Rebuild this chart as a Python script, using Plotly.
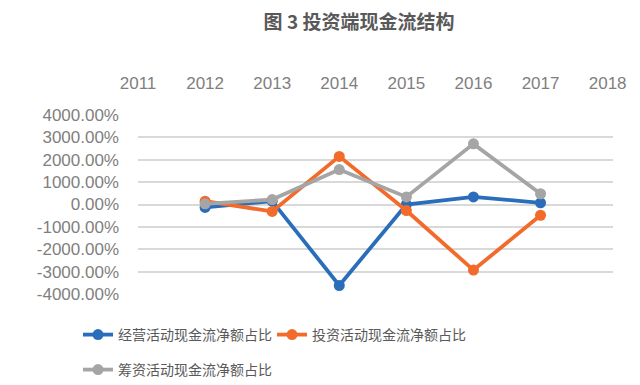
import plotly.graph_objects as go

years = [2012, 2013, 2014, 2015, 2016, 2017]
operating = [-130, 150, -3620, 0, 340, 75]
investing = [150, -310, 2150, -270, -2930, -480]
financing = [30, 220, 1560, 340, 2710, 480]
x_ticks = [2011, 2012, 2013, 2014, 2015, 2016, 2017, 2018]
y_ticks = [4000, 3000, 2000, 1000, 0, -1000, -2000, -3000, -4000]

names = ["经营活动现金流净额占比", "投资活动现金流净额占比", "筹资活动现金流净额占比"]
colors = ["#2A6EBB", "#F26B2A", "#A5A5A5"]
legends = ["legend", "legend2", "legend3"]

fig = go.Figure()
for name, vals, c, lg in zip(names, [operating, investing, financing], colors, legends):
    fig.add_trace(go.Scatter(
        x=years, y=vals, name=name, mode="lines+markers",
        line=dict(color=c, width=3.8),
        marker=dict(color=c, size=11),
        legend=lg,
    ))

legend_font = dict(family="Noto Sans CJK SC", size=14, color="#595959")


def leg(xpx, ypx):
    return dict(orientation="h", xref="container", yref="container",
                x=xpx / 640, y=1 - ypx / 385, xanchor="left", yanchor="middle",
                font=legend_font, itemwidth=30)


fig.update_layout(
    width=640, height=385,
    margin=dict(l=138, r=27, t=115, b=91),
    paper_bgcolor="white", plot_bgcolor="white",
    title=dict(text="<b>图 3 投资端现金流结构</b>", x=0.561, xanchor="center",
               y=1 - 22 / 385, yanchor="middle",
               font=dict(family="Noto Sans CJK SC", size=19, color="#595959")),
    xaxis=dict(side="top", range=[2011, 2018.08], tickvals=x_ticks,
               ticktext=[str(t) for t in x_ticks], showgrid=False,
               zeroline=False, showline=False, ticks="",
               ticklabelstandoff=22,
               tickfont=dict(family="Liberation Sans", size=17, color="#7F7F7F")),
    yaxis=dict(range=[-4000, 4000], tickvals=y_ticks,
               ticktext=[f"{v:.2f}%" for v in y_ticks],
               showgrid=True, gridcolor="#D9D9D9", gridwidth=1.5,
               zeroline=False, showline=False, ticks="",
               ticklabelstandoff=18,
               tickfont=dict(family="Liberation Sans", size=17, color="#7F7F7F")),
    legend=leg(78, 335),
    legend2=leg(272, 335),
    legend3=leg(78, 370),
    showlegend=True,
)

fig.write_html("out.html", config={"displayModeBar": False},
               post_script="document.body.style.margin='0';")
